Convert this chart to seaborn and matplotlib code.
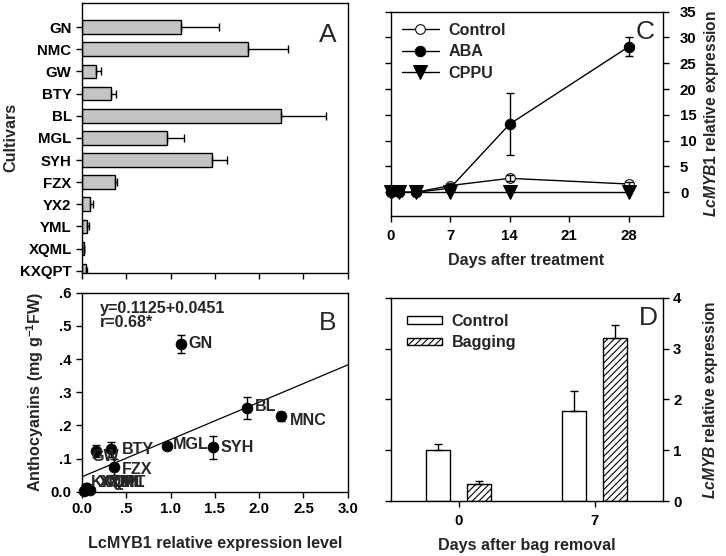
import numpy as np
import pandas as pd
import matplotlib
matplotlib.use("Agg")
import matplotlib.pyplot as plt
from matplotlib.patches import Patch
from matplotlib.container import BarContainer
import seaborn as sns

# panel A: LcMYB1 expression per cultivar
cultivars = ['GN', 'NMC', 'GW', 'BTY', 'BL', 'MGL', 'SYH', 'FZX', 'YX2', 'YML', 'XQML', 'KXQPT']
expr = [1.12, 1.87, 0.16, 0.33, 2.25, 0.96, 1.47, 0.37, 0.09, 0.06, 0.02, 0.05]
expr_err = [0.43, 0.46, 0.05, 0.05, 0.50, 0.19, 0.17, 0.03, 0.03, 0.02, 0.005, 0.01]

# panel B: anthocyanins vs expression
pt_names = ['GN', 'BL', 'MNC', 'SYH', 'MGL', 'BTY', 'GW', 'FZX', 'KXQPT', 'XQML', 'YML', 'YX2']
pt_x = [1.115, 1.86, 2.25, 1.48, 0.96, 0.33, 0.155, 0.365, 0.05, 0.02, 0.06, 0.09]
pt_y = [0.447, 0.252, 0.227, 0.134, 0.138, 0.128, 0.123, 0.074, 0.010, 0.002, 0.012, 0.005]
pt_err = [0.027, 0.034, 0.015, 0.034, 0.010, 0.023, 0.018, 0.024, 0.004, 0.002, 0.004, 0.003]
fit_a, fit_b = 0.0451, 0.1125
b_xticks = [0.0, 0.5, 1.0, 1.5, 2.0, 2.5, 3.0]
b_xlabels = ['0.0', '.5', '1.0', '1.5', '2.0', '2.5', '3.0']
b_yticks = [0.0, 0.1, 0.2, 0.3, 0.4, 0.5, 0.6]
b_ylabels = ['0.0', '.1', '.2', '.3', '.4', '.5', '.6']

# panel C: time course after treatment
days = [0, 1, 3, 7, 14, 28]
ctrl = [0, 0, 0, 1.3, 2.7, 1.6]
ctrl_err = [0, 0, 0, 0.2, 0.6, 0.3]
aba = [0, 0, 0, 0.8, 13.2, 28.2]
aba_err = [0, 0, 0, 0.2, 6.0, 1.8]
cppu = [0, 0, 0, 0, 0, 0]

# panel D: bag removal
d_days = ['0', '7']
d_ctrl = [1.01, 1.78]
d_ctrl_err = [0.11, 0.38]
d_bag = [0.33, 3.21]
d_bag_err = [0.06, 0.26]

sns.set_style('ticks')
plt.rcParams['font.family'] = ['Liberation Sans', 'DejaVu Sans']
plt.rcParams['font.weight'] = 'bold'
plt.rcParams['axes.labelweight'] = 'bold'
plt.rcParams['mathtext.fontset'] = 'custom'
plt.rcParams['mathtext.rm'] = 'Liberation Sans:bold'
plt.rcParams['mathtext.it'] = 'Liberation Sans:italic:bold'
plt.rcParams['mathtext.bf'] = 'Liberation Sans:bold'
plt.rcParams['hatch.linewidth'] = 0.8

TICK = 10.8
LAB = 11.6

fig = plt.figure(figsize=(7.26, 5.56), dpi=100)
axA = fig.add_axes([0.113, 0.509, 0.366, 0.486])
axB = fig.add_axes([0.113, 0.1156, 0.366, 0.3577])
axC = fig.add_axes([0.538, 0.6115, 0.3747, 0.3675])
axD = fig.add_axes([0.538, 0.0984, 0.3747, 0.3662])

for ax in (axA, axB, axC, axD):
    for s in ax.spines.values():
        s.set_visible(True)
        s.set_linewidth(1.0)
        s.set_color('black')
    ax.tick_params(labelsize=TICK, width=1, length=4, direction='out', colors='black')

# ---- A
sns.barplot(x=expr, y=cultivars, orient='h', color='#c4c4c4', saturation=1,
            edgecolor='black', linewidth=1, width=0.62, ax=axA)
axA.errorbar(expr, np.arange(len(cultivars)), xerr=[np.zeros(len(expr)), expr_err],
             fmt='none', ecolor='black', elinewidth=1, capsize=3)
axA.set_xlim(0, 3)
axA.set_ylim(11.1, -1.1)
axA.set_xticks(b_xticks)
axA.set_xticklabels([])
axA.set_xlabel('')
axA.set_ylabel('Cultivars', fontsize=LAB, labelpad=1)
axA.text(0.925, 0.88, 'A', transform=axA.transAxes, fontsize=19, fontweight='normal',
         ha='center', va='center')

# ---- B
axB.axline((0, fit_a), slope=fit_b, color='black', lw=0.9)
axB.errorbar(pt_x, pt_y, yerr=pt_err, fmt='none', ecolor='black', elinewidth=1, capsize=3)
sns.scatterplot(x=pt_x, y=pt_y, color='black', s=60, edgecolor='black', ax=axB,
                zorder=3, clip_on=False)
offsets = {'GN': (0.09, 0), 'BL': (0.09, 0.005), 'MNC': (0.10, -0.012), 'SYH': (0.08, 0),
           'MGL': (0.07, 0.005), 'BTY': (0.12, 0), 'GW': (-0.055, -0.017), 'FZX': (0.09, -0.006),
           'KXQPT': (0.045, 0.017), 'XQML': (0.17, 0.025), 'YML': (0.25, 0.015), 'YX2': (0.10, 0.022)}
for n, x, y in zip(pt_names, pt_x, pt_y):
    dx, dy = offsets[n]
    axB.text(x + dx, y + dy, n, fontsize=LAB, va='center', ha='left')
axB.set_xlim(0, 3)
axB.set_ylim(0, 0.6)
axB.set_xticks(b_xticks)
axB.set_xticklabels(b_xlabels)
axB.set_yticks(b_yticks)
axB.set_yticklabels(b_ylabels)
axB.set_xlabel('LcMYB1 relative expression level', fontsize=LAB, labelpad=14)
axB.set_ylabel(r'Anthocyanins (mg g$^{-1}$FW)', fontsize=LAB, labelpad=3)
axB.text(0.068, 0.92, 'y=0.1125+0.0451', transform=axB.transAxes, fontsize=LAB, va='center')
axB.text(0.068, 0.85, 'r=0.68*', transform=axB.transAxes, fontsize=LAB, va='center')
axB.text(0.925, 0.85, 'B', transform=axB.transAxes, fontsize=19, fontweight='normal',
         ha='center', va='center')

# ---- C
sns.lineplot(x=days, y=ctrl, color='black', lw=1, marker='o', markersize=7,
             markerfacecolor='white', markeredgecolor='black', label='Control', ax=axC)
sns.lineplot(x=days, y=aba, color='black', lw=1, marker='o', markersize=7.5,
             markerfacecolor='black', markeredgecolor='black', label='ABA', ax=axC)
sns.lineplot(x=days, y=cppu, color='black', lw=1, marker='v', markersize=10,
             markerfacecolor='black', markeredgecolor='black', label='CPPU', ax=axC)
axC.errorbar(days, ctrl, yerr=ctrl_err, fmt='none', ecolor='black', elinewidth=1, capsize=3)
axC.errorbar(days, aba, yerr=aba_err, fmt='none', ecolor='black', elinewidth=1, capsize=3)
for l in axC.lines:
    l.set_clip_on(False)
axC.set_xlim(0, 32)
axC.set_ylim(-4.6, 35)
axC.set_xticks([0, 7, 14, 21, 28])
axC.set_yticks([0, 5, 10, 15, 20, 25, 30, 35])
axC.tick_params(axis='y', left=True, right=True, labelleft=False, labelright=True, pad=8.5)
axC.tick_params(axis='x', pad=5.5)
axC.yaxis.set_label_position('right')
axC.set_ylabel(r'$LcMYB1$ relative expression', fontsize=11.2, labelpad=4)
axC.set_xlabel('Days after treatment', fontsize=LAB, labelpad=7)
axC.legend(loc='upper left', frameon=False, fontsize=LAB, handlelength=2.3,
           borderaxespad=0.3, labelspacing=0.4, handletextpad=0.6)
axC.text(0.935, 0.90, 'C', transform=axC.transAxes, fontsize=19, fontweight='normal',
         ha='center', va='center')

# ---- D
dfD = pd.DataFrame({'day': d_days * 2, 'val': d_ctrl + d_bag,
                    'grp': ['Control'] * 2 + ['Bagging'] * 2})
sns.barplot(data=dfD, x='day', y='val', hue='grp', palette=['white', 'white'], saturation=1,
            edgecolor='black', linewidth=1, width=0.6, gap=0.4, legend=False, ax=axD)
errs = [d_ctrl_err, d_bag_err]
vals = [d_ctrl, d_bag]
bars = [c for c in axD.containers if isinstance(c, BarContainer)]
for i, cont in enumerate(bars):
    xs = [p.get_x() + p.get_width() / 2 for p in cont.patches]
    if i == 1:
        for p in cont.patches:
            p.set_hatch('/////')
    axD.errorbar(xs, vals[i], yerr=[np.zeros(2), errs[i]], fmt='none', ecolor='black',
                 elinewidth=1, capsize=3)
axD.set_xlim(-0.5, 1.5)
axD.set_ylim(0, 4)
axD.set_yticks([0, 1, 2, 3, 4])
axD.tick_params(axis='y', left=True, right=True, labelleft=False, labelright=True)
axD.tick_params(axis='x', pad=5.5)
axD.yaxis.set_label_position('right')
axD.set_ylabel(r'$LcMYB$ relative expression', fontsize=11.2, labelpad=14)
axD.set_xlabel('Days after bag removal', fontsize=LAB, labelpad=6.5)
hd = [Patch(facecolor='white', edgecolor='black', label='Control'),
      Patch(facecolor='white', edgecolor='black', hatch='/////', label='Bagging')]
axD.legend(handles=hd, loc='upper left', frameon=False, fontsize=LAB, handlelength=2.2,
           handleheight=0.35, borderaxespad=0.6, labelspacing=0.4, handletextpad=0.6)
axD.text(0.946, 0.90, 'D', transform=axD.transAxes, fontsize=19, fontweight='normal',
         ha='center', va='center')

fig.savefig('out.png', dpi=100)
